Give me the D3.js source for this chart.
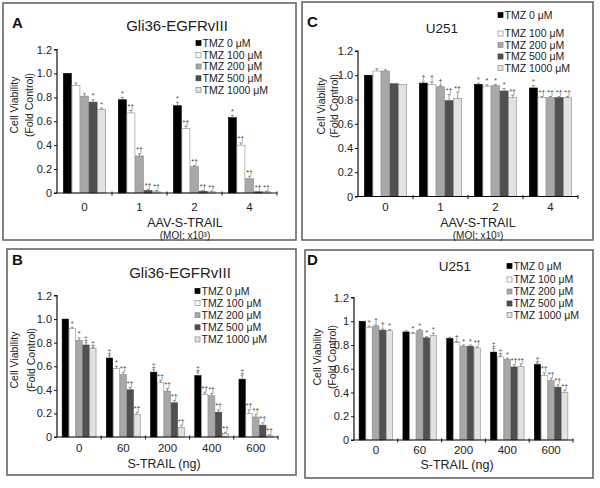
<!DOCTYPE html>
<html><head><meta charset="utf-8">
<script src="https://cdn.jsdelivr.net/npm/d3@7"></script>
<style>
html,body{margin:0;padding:0;background:#fff;}
svg{display:block;font-family:"Liberation Sans",Arial,Helvetica,sans-serif;}
</style></head>
<body>
<svg id="chart" width="600" height="488"></svg>
<script>
// ---------- DATA ----------
const seriesNames = ["TMZ 0 \u03bcM","TMZ 100 \u03bcM","TMZ 200 \u03bcM","TMZ 500 \u03bcM","TMZ 1000 \u03bcM"];
const aavGroups = ["0","1","2","4"];
const trailGroups = ["0","60","200","400","600"];
const yTicks = [0,0.2,0.4,0.6,0.8,1.0,1.2];
const yTickLabelsABC = ["0","0.2","0.4","0.6","0.8","1.0","1.2"];
const yTickLabelsD = ["0","0.2","0.4","0.6","0.8","1","1.2"];

// values per group (order: TMZ 0, 100, 200, 500, 1000)
const valuesA = [[1.00,0.90,0.81,0.76,0.70],[0.78,0.67,0.31,0.02,0.01],[0.73,0.54,0.22,0.015,0.01],[0.63,0.40,0.12,0.01,0.01]];
const errorsA = [[0.00,0.02,0.02,0.02,0.01],[0.02,0.02,0.02,0.01,0.01],[0.03,0.02,0.01,0.005,0.005],[0.02,0.02,0.02,0.005,0.005]];
const notesA  = [["","","","*","*"],["*","*\u2020","*\u2020","*\u2020","*\u2020"],["*","*\u2020","*\u2020","*\u2020","*\u2020"],["*","*\u2020","*\u2020","*\u2020","*\u2020"]];

const valuesB = [[1.00,0.92,0.82,0.78,0.75],[0.67,0.58,0.53,0.40,0.19],[0.55,0.46,0.39,0.29,0.08],[0.52,0.36,0.35,0.21,0.03],[0.49,0.20,0.17,0.10,0.01]];
const errorsB = [[0.00,0.01,0.02,0.02,0.01],[0.02,0.02,0.02,0.02,0.02],[0.02,0.02,0.02,0.02,0.02],[0.03,0.02,0.02,0.02,0.01],[0.03,0.03,0.02,0.02,0.01]];
const notesB  = [["","*","*","\u2021","\u2021"],["\u2021","*","*\u2020","*\u2020","*\u2020"],["\u2021","*\u2020","*\u2020","*\u2020","*\u2020"],["\u2021","*\u2020","*\u2020","*\u2020","*\u2020"],["\u2021","*\u2020","*\u2020","*\u2020","*\u2020"]];

const valuesC = [[1.00,1.035,1.035,0.93,0.925],[0.935,0.925,0.905,0.79,0.81],[0.925,0.91,0.915,0.87,0.815],[0.895,0.815,0.815,0.815,0.815]];
const errorsC = [[0.00,0.02,0.01,0.00,0.00],[0.01,0.02,0.01,0.05,0.05],[0.01,0.01,0.01,0.02,0.02],[0.02,0.01,0.01,0.01,0.01]];
const notesC  = [["","","","",""],["\u2020","\u2020","\u2020","*\u2020","*\u2020"],["*","*","*","*","*\u2020"],["*","*\u2020","*\u2020","*\u2020","*\u2020"]];

const valuesD = [[1.00,0.95,0.96,0.925,0.92],[0.91,0.895,0.92,0.86,0.88],[0.855,0.82,0.79,0.79,0.775],[0.74,0.70,0.68,0.615,0.62],[0.635,0.545,0.50,0.445,0.40]];
const errorsD = [[0.00,0.01,0.01,0.01,0.01],[0.01,0.01,0.01,0.01,0.02],[0.01,0.01,0.01,0.01,0.01],[0.03,0.01,0.01,0.02,0.02],[0.01,0.02,0.02,0.02,0.02]];
const notesD  = [["","*","\u2020","\u2020","*"],["","*","*","*","*"],["","\u2020","*","*","*\u2020"],["\u2021","\u2021","*","*\u2020","*\u2020"],["\u2021","*\u2020","*\u2020","*\u2020","*\u2020"]];

// ---------- STYLE / LAYOUT ----------
const fills   = ["#000000","#ffffff","#a8a8a8","#505050","#e2e2e2"];
const strokes = ["#000000","#8a8a8a","#8a8a8a","#404040","#8a8a8a"];

const panels = [
  {letter:"A", title:"Gli36-EGFRvIII", titleSize:15, groups:aavGroups, values:valuesA, errors:errorsA, notes:notesA, yLabels:yTickLabelsABC,
   box:[3,3,293,237], letterPos:[12,28], titlePos:[177,31], x0:57, x1:277, yZero:193, yTop:49.5,
   groupLabelY:211, xTitle:"AAV-S-TRAIL", xTitleY:226.5, xSub:"(MOI; x10\u00b3)", xSubY:238.5, xTitleX:185,
   yTitleX:[18,32.5], yTitleY:105, legX:196, legY:[43,54.8,66.5,78.3,90]},
  {letter:"B", title:"Gli36-EGFRvIII", titleSize:15, groups:trailGroups, values:valuesB, errors:errorsB, notes:notesB, yLabels:yTickLabelsABC,
   box:[7,249,289,226], letterPos:[12,265], titlePos:[180,278], x0:57, x1:278, yZero:437, yTop:295.5,
   groupLabelY:452, xTitle:"S-TRAIL (ng)", xTitleY:467.5, xSub:null, xTitleX:164,
   yTitleX:[18,34.5], yTitleY:360, legX:195, legY:[291,303.1,315.2,327.3,339.4]},
  {letter:"C", title:"U251", titleSize:13.5, groups:aavGroups, values:valuesC, errors:errorsC, notes:notesC, yLabels:yTickLabelsABC,
   box:[302,2,291,238], letterPos:[307,27], titlePos:[442,32.5], x0:358, x1:578, yZero:196.5, yTop:51,
   groupLabelY:211, xTitle:"AAV-S-TRAIL", xTitleY:226.5, xSub:"(MOI; x10\u00b3)", xSubY:238.5, xTitleX:478,
   yTitleX:[324.5,337.5], yTitleY:106, legX:498, legY:[15,33.5,45,56.5,68]},
  {letter:"D", title:"U251", titleSize:13.5, groups:trailGroups, values:valuesD, errors:errorsD, notes:notesD, yLabels:yTickLabelsD,
   box:[305,250,288,228], letterPos:[307,265], titlePos:[455,271], x0:354, x1:573, yZero:440, yTop:297.5,
   groupLabelY:454, xTitle:"S-TRAIL (ng)", xTitleY:469, xSub:null, xTitleX:457,
   yTitleX:[320.5,335.5], yTitleY:357, legX:507, legY:[266,279.5,291.5,303.5,315]}
];

const svg = d3.select("#chart");
svg.append("rect").attr("width",600).attr("height",488).attr("fill","#fff");

panels.forEach(p => {
  const g = svg.append("g");
  // frame
  g.append("rect").attr("x",p.box[0]).attr("y",p.box[1]).attr("width",p.box[2]).attr("height",p.box[3])
    .attr("fill","none").attr("stroke","#666").attr("stroke-width",1.6);
  // letter & title
  g.append("text").attr("x",p.letterPos[0]).attr("y",p.letterPos[1]).attr("font-size",15).attr("font-weight","bold")
    .attr("fill","#111").text(p.letter);
  g.append("text").attr("x",p.titlePos[0]).attr("y",p.titlePos[1]).attr("text-anchor","middle")
    .attr("font-size",p.titleSize).attr("fill","#222").text(p.title);

  const x = d3.scaleBand().domain(p.groups).range([p.x0,p.x1]).paddingInner(0).paddingOuter(0);
  const bw = x.bandwidth();
  const xs = d3.scaleBand().domain(d3.range(seriesNames.length)).range([bw*0.11, bw*0.89]).padding(0);
  const y = d3.scaleLinear().domain([0,1.2]).range([p.yZero,p.yTop]);

  // bars
  p.groups.forEach((grp, gi) => {
    const gg = g.append("g").attr("transform",`translate(${x(grp)},0)`);
    const vals = p.values[gi];
    gg.selectAll("rect.bar").data(vals).join("rect").attr("class","bar")
      .attr("x",(d,i)=>xs(i)+0.3).attr("width",xs.bandwidth()-0.6)
      .attr("y",d=>y(d)).attr("height",d=>Math.max(0.8,y(0)-y(d)))
      .attr("fill",(d,i)=>fills[i]).attr("stroke",(d,i)=>strokes[i]).attr("stroke-width",0.6);
    // error bars + significance marks
    vals.forEach((v,i)=>{
      const e = p.errors[gi][i];
      if (e>0) {
        const cx = xs(i)+xs.bandwidth()/2;
        gg.append("line").attr("x1",cx).attr("x2",cx).attr("y1",y(v)).attr("y2",y(v+e)).attr("stroke","#777").attr("stroke-width",0.8);
        gg.append("line").attr("x1",cx-1.5).attr("x2",cx+1.5).attr("y1",y(v+e)).attr("y2",y(v+e)).attr("stroke","#777").attr("stroke-width",0.8);
      }
      const n = p.notes[gi][i];
      if (n) {
        gg.append("text").attr("x",xs(i)+xs.bandwidth()/2).attr("y",y(v+e)-1.5).attr("text-anchor","middle")
          .attr("font-size",7).attr("fill","#444").text(n);
      }
    });
  });

  // y axis
  const yAxis = d3.axisLeft(y).tickValues(yTicks).tickFormat((d,i)=>p.yLabels[i]).tickSize(3).tickPadding(2);
  const ya = g.append("g").attr("transform",`translate(${p.x0},0)`).call(yAxis);
  ya.select(".domain").attr("stroke","#111").attr("stroke-width",1.2).attr("d",`M-3,${p.yTop}H0V${p.yZero}`);
  ya.selectAll(".tick line").attr("stroke","#111");
  ya.selectAll(".tick text").attr("font-size",11).attr("fill","#222").attr("font-family","Liberation Sans, Arial, sans-serif");

  // x axis
  const xa = g.append("g").attr("transform",`translate(0,${p.yZero})`);
  xa.append("line").attr("x1",p.x0-3).attr("x2",p.x1).attr("stroke","#111").attr("stroke-width",1.2);
  p.groups.forEach((grp,gi)=>{
    const bx = x(grp)+bw;
    xa.append("line").attr("x1",bx).attr("x2",bx).attr("y1",-1.5).attr("y2",2.5).attr("stroke","#111").attr("stroke-width",1);
    xa.append("text").attr("x",x(grp)+bw/2).attr("y",p.groupLabelY-p.yZero).attr("text-anchor","middle")
      .attr("font-size",11.5).attr("fill","#222").text(grp);
  });
  g.append("text").attr("x",p.xTitleX).attr("y",p.xTitleY).attr("text-anchor","middle").attr("font-size",12.5).attr("fill","#222").text(p.xTitle);
  if (p.xSub) g.append("text").attr("x",p.xTitleX).attr("y",p.xSubY).attr("text-anchor","middle").attr("font-size",10).attr("fill","#222").text(p.xSub);

  // y title
  ["Cell Viability","(Fold Control)"].forEach((t,k)=>{
    g.append("text").attr("transform",`translate(${p.yTitleX[k]},${p.yTitleY}) rotate(-90)`)
      .attr("text-anchor","middle").attr("font-size",10.5).attr("fill","#222").text(t);
  });

  // legend
  seriesNames.forEach((s,i)=>{
    const ly = p.legY[i];
    g.append("rect").attr("x",p.legX).attr("y",ly-2.5).attr("width",5).attr("height",5)
      .attr("fill",fills[i]).attr("stroke",strokes[i]).attr("stroke-width",0.7);
    g.append("text").attr("x",p.legX+6.5).attr("y",ly+3.8).attr("font-size",10.5).attr("fill","#222").text(s);
  });
});
</script>
</body></html>
